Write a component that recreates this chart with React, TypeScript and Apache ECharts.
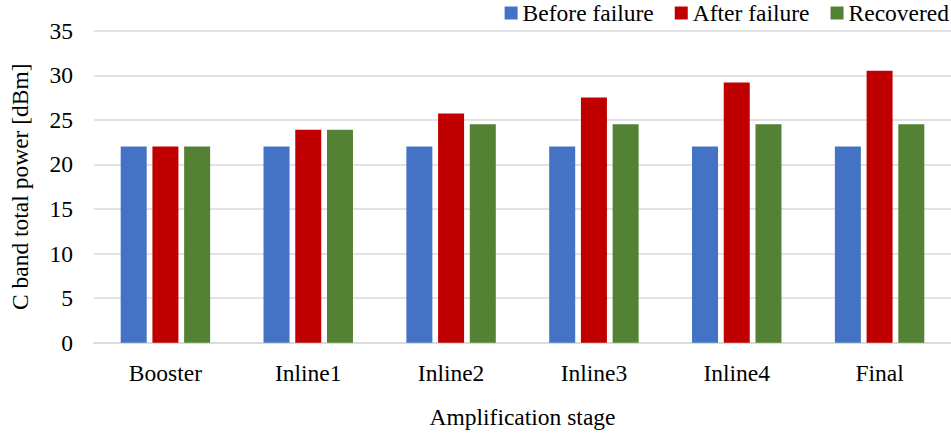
import React, { useEffect, useRef } from "react";
import * as echarts from "echarts";

const categories = ["Booster", "Inline1", "Inline2", "Inline3", "Inline4", "Final"];
const beforeFailure = [22, 22, 22, 22, 22, 22];
const afterFailure = [22, 23.9, 25.7, 27.5, 29.2, 30.5];
const recovered = [22, 23.9, 24.5, 24.5, 24.5, 24.5];
const seriesNames = ["Before failure", "After failure", "Recovered"];
const colors = ["#4472C4", "#C00000", "#548235"];

const FONT = "Liberation Serif, Times New Roman, serif";
const FS = 23.5;

export default function App() {
  const ref = useRef<HTMLDivElement>(null);
  useEffect(() => {
    if (!ref.current) return;
    const chart = echarts.init(ref.current, undefined, { renderer: "svg" });
    const datasets = [beforeFailure, afterFailure, recovered];
    chart.setOption({
      animation: false,
      textStyle: { fontFamily: FONT, fontSize: FS },
      legend: {
        top: 1,
        right: 2,
        padding: 0,
        itemWidth: 13,
        itemHeight: 13,
        itemGap: 21,
        icon: "rect",
        textStyle: { fontFamily: FONT, fontSize: 23.5, color: "#000" },
        data: seriesNames,
      },
      grid: { left: 93, right: 0, top: 30.7, bottom: 93.3, containLabel: false },
      xAxis: {
        type: "category",
        data: categories,
        name: "Amplification stage",
        nameLocation: "middle",
        nameGap: 62,
        nameTextStyle: { fontFamily: FONT, fontSize: FS, color: "#000" },
        axisLine: { lineStyle: { color: "#d9d9d9", width: 1.5 } },
        axisTick: { show: false },
        axisLabel: { fontFamily: FONT, fontSize: FS, color: "#000", margin: 18 },
      },
      yAxis: {
        type: "value",
        min: 0,
        max: 35,
        interval: 5,
        name: "C band total power [dBm]",
        nameLocation: "middle",
        nameGap: 62,
        nameTextStyle: { fontFamily: FONT, fontSize: FS, color: "#000" },
        axisLine: { show: false },
        axisTick: { show: false },
        splitLine: { lineStyle: { color: "#d9d9d9", width: 1.5 } },
        axisLabel: { fontFamily: FONT, fontSize: FS, color: "#000", margin: 21 },
      },
      series: datasets.map((d, i) => ({
        name: seriesNames[i],
        type: "bar",
        data: d,
        barWidth: 26,
        barGap: "22%",
        itemStyle: { color: colors[i] },
      })),
    });
    return () => chart.dispose();
  }, []);
  return (
    <div
      ref={ref}
      style={{ position: "fixed", left: 0, top: 0, width: 951, height: 436, background: "#fff" }}
    />
  );
}
